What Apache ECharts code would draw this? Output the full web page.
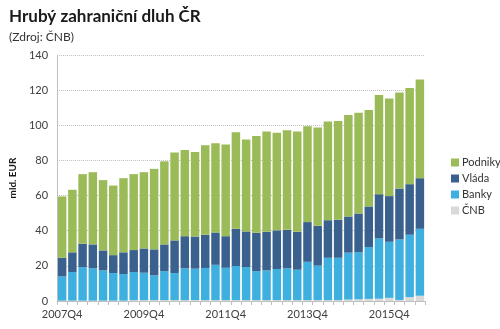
<!DOCTYPE html>
<html>
<head>
<meta charset="utf-8">
<script src="https://cdn.jsdelivr.net/npm/echarts@6/dist/echarts.min.js"></script>
<style>
html,body{margin:0;padding:0;background:#fff;}
#c{width:500px;height:329px;}
</style>
</head>
<body>
<div id="c"></div>
<script>
var categories = ['2007Q4','2008Q1','2008Q2','2008Q3','2008Q4','2009Q1','2009Q2','2009Q3','2009Q4',
'2010Q1','2010Q2','2010Q3','2010Q4','2011Q1','2011Q2','2011Q3','2011Q4',
'2012Q1','2012Q2','2012Q3','2012Q4','2013Q1','2013Q2','2013Q3','2013Q4',
'2014Q1','2014Q2','2014Q3','2014Q4','2015Q1','2015Q2','2015Q3','2015Q4',
'2016Q1','2016Q2','2016Q3'];
var cnb = [0.2,0.2,0.2,0.2,0.2,0.2,0.2,0.5,0.5,0.5,0.5,0.5,0.5,0.5,0.5,0.5,0.5,0.5,0.5,0.5,0.5,0.5,0.5,0.5,0.5,0.5,0.5,0.5,0.8,1.0,1.2,1.3,1.8,0.6,2.2,3.0];
var banky = [13.8,16.3,19.1,18.4,17.2,15.7,15.1,16.0,15.6,14.1,16.5,15.4,18.1,17.9,18.3,20.1,18.4,19.4,18.8,16.5,16.9,17.7,18.1,17.3,21.8,19.6,24.1,24.1,26.7,26.8,29.5,34.3,31.9,34.4,35.5,38.1];
var vlada = [10.6,11.2,13.3,13.6,11.4,10.2,12.4,12.5,13.8,14.8,15.2,18.6,18.3,18.3,18.9,18.4,18.0,21.2,20.3,21.8,22.0,22.0,21.9,21.6,22.6,22.7,21.4,21.6,20.6,22.0,23.1,25.2,26.0,29.0,28.8,28.8];
var podniky = [34.9,35.6,39.6,41.1,40.0,39.6,42.2,43.2,43.4,45.8,47.3,50.0,49.1,48.1,50.9,50.8,52.1,54.9,52.3,55.1,57.0,55.6,56.7,57.0,54.5,55.9,56.1,56.3,57.8,57.4,54.9,56.4,55.6,54.6,54.7,56.2];
var yTicks = [0,20,40,60,80,100,120,140];

var FONT = 'Lato, "Open Sans", sans-serif';
var chart = echarts.init(document.getElementById('c'), null, {renderer:'canvas'});
function bar(name, data, color){
  return {name:name, type:'bar', stack:'s', data:data, barCategoryGap:'17%',
    itemStyle:{color:color}, emphasis:{disabled:true}};
}
chart.setOption({
  animation:false,
  textStyle:{fontFamily:FONT},
  title:[
    {text:'Hrubý zahraniční dluh ČR', left:4, top:3,
     textStyle:{fontFamily:FONT, fontSize:17, fontWeight:'bold', color:'#1a1a1a'}},
    {text:'(Zdroj: ČNB)', left:4, top:26,
     textStyle:{fontFamily:FONT, fontSize:12, fontWeight:'normal', color:'#333'}}
  ],
  legend:{
    orient:'vertical', left:446, top:152, itemWidth:8, itemHeight:8, itemGap:5,
    icon:'rect',
    data:['Podniky','Vláda','Banky','ČNB'],
    textStyle:{fontFamily:FONT, fontSize:11, color:'#333', padding:[0,0,0,-2]}
  },
  grid:{left:50, right:75, top:55, bottom:28},
  xAxis:{
    type:'category', data:categories,
    axisLine:{lineStyle:{color:'#bfbfbf'}},
    axisTick:{show:true, interval:0, length:4, lineStyle:{color:'#bfbfbf'}},
    axisLabel:{interval:7, fontFamily:FONT, fontSize:11, color:'#404040', margin:8}
  },
  yAxis:{
    type:'value', min:yTicks[0], max:yTicks[yTicks.length-1], interval:20,
    name:'mld. EUR', nameLocation:'middle', nameGap:29, nameRotate:90,
    nameTextStyle:{fontFamily:FONT, fontSize:10, fontWeight:'bold', color:'#1a1a1a'},
    axisLine:{show:true, lineStyle:{color:'#bfbfbf'}},
    axisTick:{show:false},
    axisLabel:{fontFamily:FONT, fontSize:11, color:'#404040', margin:9},
    splitLine:{lineStyle:{color:'#bfbfbf', type:[1,1]}}
  },
  series:[
    bar('ČNB', cnb, '#d9d9d9'),
    bar('Banky', banky, '#3eb0e0'),
    bar('Vláda', vlada, '#3a618e'),
    bar('Podniky', podniky, '#9bbb59')
  ]
});
</script>
</body>
</html>
